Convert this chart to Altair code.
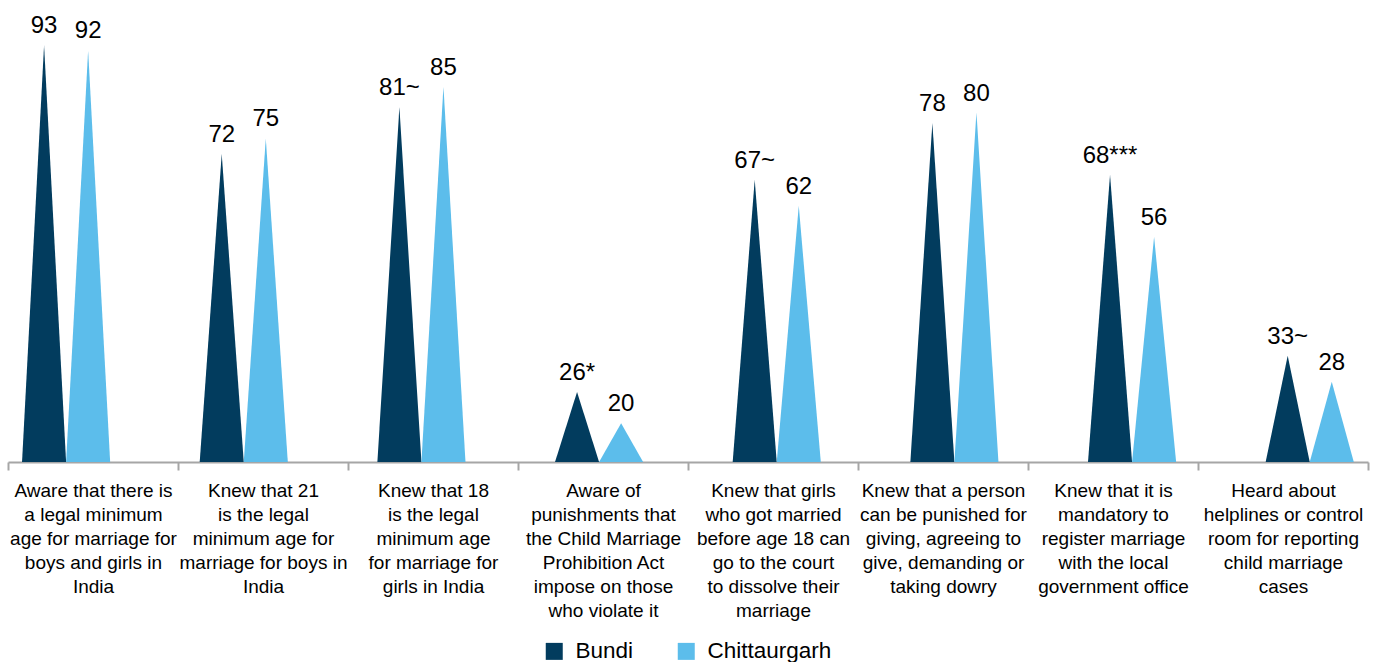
import altair as alt
import pandas as pd

# Survey items (axis label lines separated by "|")
categories = [
    "Aware that there is|a legal minimum|age for marriage for|boys and girls in|India",
    "Knew that 21|is the legal|minimum age for|marriage for boys in|India",
    "Knew that 18|is the legal|minimum age|for marriage for|girls in India",
    "Aware of|punishments that|the Child Marriage|Prohibition Act|impose on those|who violate it",
    "Knew that girls|who got married|before age 18 can|go to the court|to dissolve their|marriage",
    "Knew that a person|can be punished for|giving, agreeing to|give, demanding or|taking dowry",
    "Knew that it is|mandatory to|register marriage|with the local|government office",
    "Heard about|helplines or control|room for reporting|child marriage|cases",
]

series = ["Bundi", "Chittaurgarh"]
bundi = [93, 72, 81, 26, 67, 78, 68, 33]
chittaurgarh = [92, 75, 85, 20, 62, 80, 56, 28]
# significance markers printed after the Bundi values
bundi_marks = ["", "", "~", "*", "~", "", "***", "~"]
chittaurgarh_marks = ["", "", "", "", "", "", "", ""]

colors = ["#023C5E", "#5CBDEB"]

# value-axis range and spike geometry (in category units)
Y_MIN, Y_MAX = 12.5, 100
X_MIN, X_MAX = -0.327, 7.328
HALF = 0.124

tri_rows = []
label_rows = []
for s_idx, (name, vals, marks) in enumerate(
    [(series[0], bundi, bundi_marks), (series[1], chittaurgarh, chittaurgarh_marks)]
):
    offset = -HALF if s_idx == 0 else HALF
    for i, (v, m) in enumerate(zip(vals, marks)):
        cx = i + offset
        tid = f"{name}{i}"
        for px, py in [(cx - HALF, Y_MIN), (cx, float(v)), (cx + HALF, Y_MIN)]:
            tri_rows.append({"spike": tid, "series": name, "pos": px, "top": py, "base": Y_MIN})
        label_rows.append({"series": name, "pos": cx, "top": float(v), "label": f"{v}{m}"})

tri_df = pd.DataFrame(tri_rows)
label_df = pd.DataFrame(label_rows)
cat_df = pd.DataFrame({"category": categories})

x_scale = alt.Scale(domain=[X_MIN, X_MAX], nice=False, zero=False)
y_scale = alt.Scale(domain=[Y_MIN, Y_MAX], nice=False, zero=False)

spikes = alt.Chart(tri_df).mark_area(interpolate="linear").encode(
    x=alt.X("pos:Q", scale=x_scale, axis=None),
    y=alt.Y("top:Q", scale=y_scale, axis=None),
    y2=alt.Y2("base:Q"),
    detail=alt.Detail("spike:N"),
    color=alt.Color(
        "series:N",
        scale=alt.Scale(domain=series, range=colors),
        legend=alt.Legend(
            title=None,
            orient="none",
            direction="horizontal",
            legendX=535,
            legendY=631,
            symbolType="square",
            symbolSize=289,
            symbolStrokeWidth=0,
            symbolOpacity=1,
            labelFont="Liberation Sans",
            labelFontSize=22.5,
            labelColor="#000000",
            labelOffset=10,
            columnPadding=41,
        ),
    ),
)

values = alt.Chart(label_df).mark_text(
    font="Liberation Sans", fontSize=24, color="#000000", baseline="alphabetic", dy=-12
).encode(
    x=alt.X("pos:Q", scale=x_scale, axis=None),
    y=alt.Y("top:Q", scale=y_scale, axis=None),
    text="label:N",
)

cat_axis = alt.Chart(cat_df).mark_point(opacity=0).encode(
    x=alt.X(
        "category:N",
        sort=categories,
        title=None,
        scale=alt.Scale(paddingInner=0, paddingOuter=0),
        axis=alt.Axis(
            labelExpr="isString(datum.value) ? split(datum.value, '|') : ''",
            labelAngle=0,
            labelFont="Liberation Sans",
            labelFontSize=19,
            labelLineHeight=24,
            labelColor="#000000",
            labelPadding=11,
            labelLimit=0,
            labelOverlap=False,
            labelFlush=False,
            labelAlign="center",
            labelBaseline="top",
            tickBand="extent",
            tickSize=8,
            tickColor="#A6A6A6",
            tickWidth=2,
            domainColor="#A6A6A6",
            domainWidth=2,
            grid=False,
        ),
    ),
)

chart = (
    alt.layer(spikes, values, cat_axis)
    .resolve_scale(x="independent")
    .properties(
        width=1360,
        height=453,
        autosize=alt.AutoSizeParams(type="none"),
        padding={"left": 8, "top": 9, "right": 9, "bottom": 200},
    )
    .configure_view(stroke=None)
)

chart.save("out.html", embed_options={"renderer": "svg", "actions": False})
